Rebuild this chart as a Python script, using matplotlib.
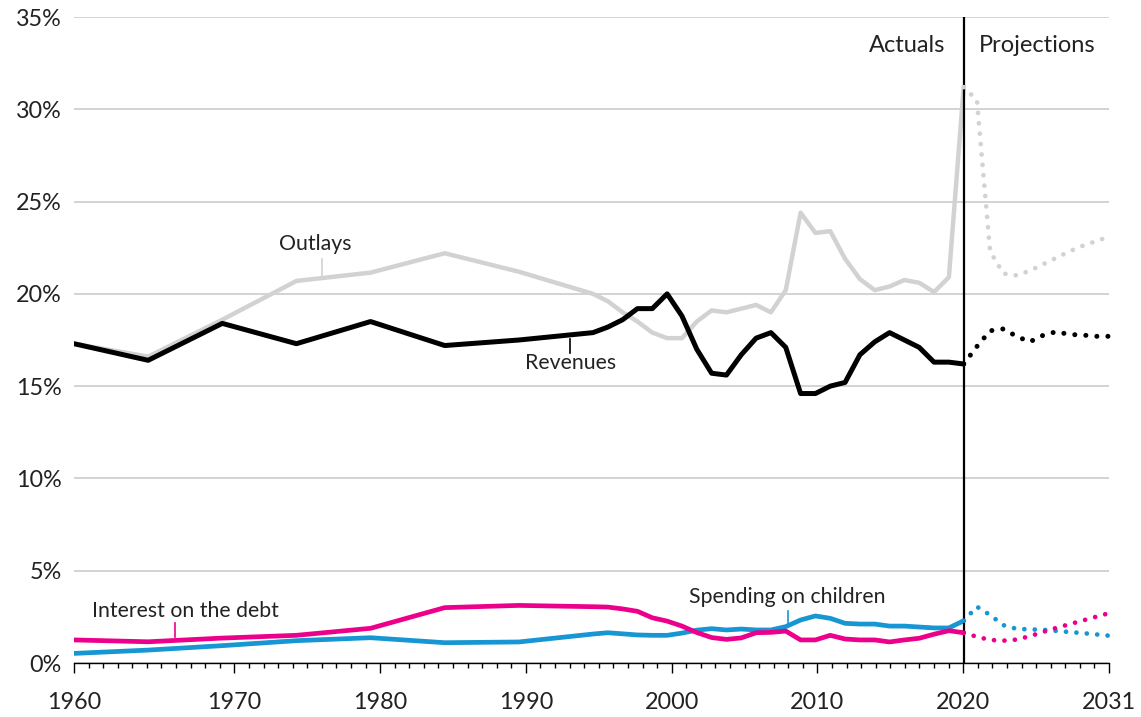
import numpy as np
import matplotlib.pyplot as plt
from matplotlib.ticker import FixedLocator, MultipleLocator

plt.rcParams['font.family'] = ['Lato', 'DejaVu Sans']

# actual values, % of GDP
years = [1960, 1965, 1970, 1975, 1980, 1985, 1990,
         1995, 1996, 1997, 1998, 1999, 2000, 2001, 2002, 2003, 2004,
         2005, 2006, 2007, 2008, 2009, 2010, 2011, 2012, 2013, 2014,
         2015, 2016, 2017, 2018, 2019, 2020]
revenues = [17.3, 16.4, 18.4, 17.3, 18.5, 17.2, 17.5,
            17.9, 18.2, 18.6, 19.2, 19.2, 20.0, 18.8, 17.0, 15.7, 15.6,
            16.7, 17.6, 17.9, 17.1, 14.6, 14.6, 15.0, 15.2, 16.7, 17.4,
            17.9, 17.5, 17.1, 16.3, 16.3, 16.2]
outlays = [17.3, 16.6, 18.6, 20.7, 21.15, 22.2, 21.2,
           20.0, 19.6, 19.0, 18.5, 17.9, 17.6, 17.6, 18.5, 19.1, 19.0,
           19.2, 19.4, 19.0, 20.2, 24.4, 23.3, 23.4, 21.9, 20.8, 20.2,
           20.4, 20.75, 20.6, 20.1, 20.9, 31.2]
interest = [1.25, 1.15, 1.35, 1.5, 1.88, 3.0, 3.12,
            3.05, 3.03, 2.93, 2.8, 2.45, 2.27, 2.0, 1.65, 1.38, 1.28,
            1.36, 1.64, 1.66, 1.73, 1.25, 1.25, 1.5, 1.3, 1.25, 1.25,
            1.14, 1.25, 1.34, 1.56, 1.75, 1.64]
children = [0.52, 0.7, 0.94, 1.21, 1.37, 1.1, 1.14,
            1.57, 1.64, 1.58, 1.52, 1.5, 1.5, 1.62, 1.78, 1.86, 1.79,
            1.84, 1.79, 1.79, 1.97, 2.33, 2.55, 2.42, 2.15, 2.11, 2.11,
            2.0, 2.0, 1.95, 1.9, 1.9, 2.29]

# projections (start at 2020 so the dots join the actuals)
proj_years = [2020, 2021, 2022, 2023, 2024, 2025, 2026, 2027, 2028, 2029, 2030, 2031]
revenues_proj = [16.2, 17.15, 18.0, 18.1, 17.7, 17.4, 17.75, 17.95, 17.8, 17.77, 17.7, 17.7]
outlays_proj = [31.2, 30.5, 22.3, 21.1, 21.0, 21.25, 21.6, 21.95, 22.3, 22.6, 22.85, 23.1]
interest_proj = [1.64, 1.42, 1.25, 1.21, 1.27, 1.45, 1.68, 1.9, 2.1, 2.3, 2.5, 2.7]
children_proj = [2.29, 3.05, 2.6, 2.05, 1.85, 1.82, 1.8, 1.74, 1.68, 1.62, 1.55, 1.48]

y_ticks = [0, 5, 10, 15, 20, 25, 30, 35]
x_tick_pos = [1959, 1970, 1980, 1990, 2000, 2010, 2020, 2030]
x_tick_labels = ['1960', '1970', '1980', '1990', '2000', '2010', '2020', '2031']

BLACK = '#000000'
GRAY = '#d2d2d2'
PINK = '#ec008b'
BLUE = '#1696d2'
GRID = '#cccccc'
TEXT = '#222222'

fig = plt.figure(figsize=(11.41, 7.17), dpi=100)
ax = fig.add_axes([0.06486, 0.07531, 0.90710, 0.90098])
ax.set_xlim(1960, 2029.8)
ax.set_ylim(0, 35)

ax.plot(years, children, color=BLUE, lw=3.4, solid_capstyle='round', solid_joinstyle='round', zorder=3)
ax.plot(years, interest, color=PINK, lw=3.4, solid_capstyle='round', solid_joinstyle='round', zorder=3)
ax.plot(years, outlays, color=GRAY, lw=3.2, solid_capstyle='round', solid_joinstyle='round', zorder=3)
ax.plot(years, revenues, color=BLACK, lw=3.6, solid_capstyle='round', solid_joinstyle='round', zorder=3)

ax.axvline(2020, color=BLACK, lw=1.6, zorder=4)

ax.set_yticks(y_ticks)
ax.set_yticklabels([f'{v}%' for v in y_ticks], fontsize=16.8, color=TEXT)
ax.tick_params(axis='y', length=0, pad=9)
ax.tick_params(axis='x', length=0, labelbottom=False)
ax.yaxis.grid(True, color=GRID, lw=1.2)
ax.set_axisbelow(True)
for s in ['left', 'top', 'right']:
    ax.spines[s].set_visible(False)
ax.spines['bottom'].set_color(BLACK)
ax.spines['bottom'].set_linewidth(1.0)
ax.spines['bottom'].set_zorder(5)

# tick axis along the bottom
axt = ax.twiny()
axt.set_xlim(1959, 2030)
axt.xaxis.set_ticks_position('bottom')
axt.xaxis.set_label_position('bottom')
axt.xaxis.set_major_locator(FixedLocator(x_tick_pos))
axt.set_xticklabels(x_tick_labels, fontsize=16.8, color=TEXT)
axt.xaxis.set_minor_locator(MultipleLocator(1))
axt.tick_params(axis='x', which='major', length=7.5, width=1.0, pad=13.5, color=BLACK)
axt.tick_params(axis='x', which='minor', length=3.8, width=1.0, color=BLACK)
for s in axt.spines.values():
    s.set_visible(False)

# projections panel, from the 2020 line to the right edge
fig.canvas.draw()
x0 = fig.transFigure.inverted().transform(ax.transData.transform((2020, 0)))[0]
pos = ax.get_position()
ax2 = fig.add_axes([x0, pos.y0, pos.x1 - x0, pos.height])
ax2.set_xlim(2020, 2031)
ax2.set_ylim(0, 35)
ax2.axis('off')
dots = (0, (0.01, 2.2))
for vals, col, lw in [(children_proj, BLUE, 3.4), (interest_proj, PINK, 3.4),
                      (outlays_proj, GRAY, 3.4), (revenues_proj, BLACK, 3.6)]:
    ax2.plot(proj_years, vals, color=col, lw=lw, linestyle=dots,
             dash_capstyle='round', clip_on=False, zorder=3)

# labels
lab = dict(fontsize=15.3, color=TEXT, ha='center', va='center')
ax.text(1976.25, 22.7, 'Outlays', **lab)
ax.plot([1976.7, 1976.7], [21.9, 20.95], color=GRAY, lw=1.2)
ax.text(1993.5, 16.25, 'Revenues', **lab)
ax.plot([1993.45, 1993.45], [17.55, 16.8], color=BLACK, lw=1.2)
ax.text(1967.5, 2.82, 'Interest on the debt', **lab)
ax.plot([1966.8, 1966.8], [2.15, 1.4], color=PINK, lw=1.2)
ax.text(2008.1, 3.55, 'Spending on children', **lab)
ax.plot([2008.15, 2008.15], [2.83, 2.1], color=BLUE, lw=1.2)

ax.annotate('Actuals', xy=(2020, 33.45), xytext=(-13, 0), textcoords='offset points',
            fontsize=17, color=TEXT, ha='right', va='center')
ax.annotate('Projections', xy=(2020, 33.45), xytext=(11, 0), textcoords='offset points',
            fontsize=17, color=TEXT, ha='left', va='center')

fig.savefig('out.png', dpi=100)
